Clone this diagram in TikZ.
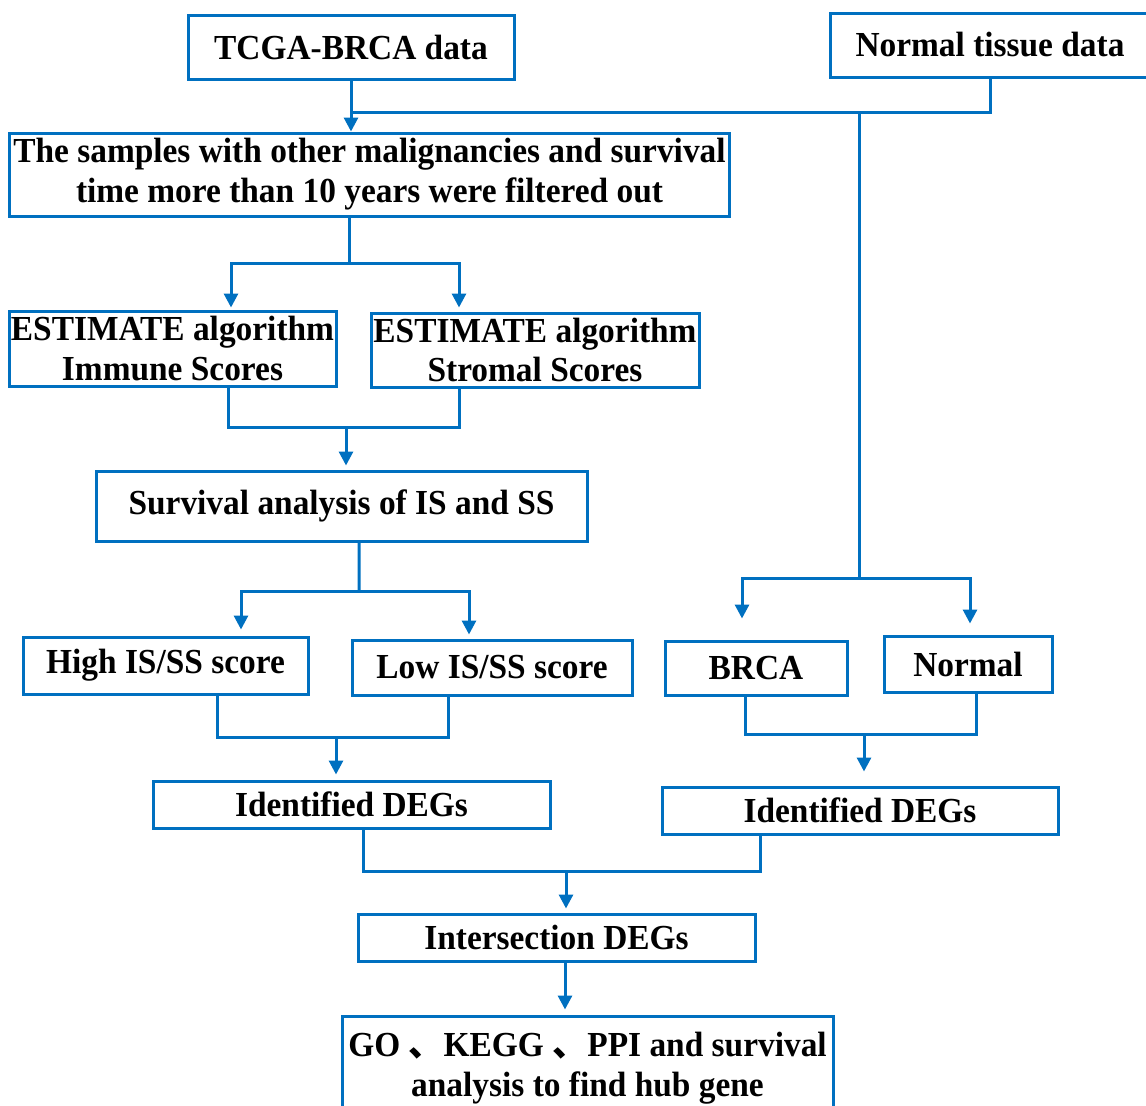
\documentclass[tikz,border=0pt]{standalone}
\usepackage{fontspec}
\setmainfont{Liberation Serif}
\newfontfamily\flowfont{Liberation Serif}[BoldFont={Liberation Serif Bold}, FakeStretch=0.95]
\newfontfamily\cjkfont{Noto Sans CJK SC}
\usepackage{tikz}
\usetikzlibrary{arrows.meta,calc,positioning}
\definecolor{flowblue}{RGB}{0,112,192}
\tikzstyle{box}  =[draw=flowblue, line width=0.06cm, inner sep=0pt,
                   align=center, font=\flowfont\bfseries\fontsize{20}{22.7}\selectfont]
\tikzstyle{link} =[draw=flowblue, line width=0.06cm]
\tikzstyle{arrow}=[link, -{Triangle[width=0.28cm,length=0.28cm]}]

\begin{document}
\begin{tikzpicture}
    \clip (0,0) rectangle (22.92,-22.10);

    % boxes
    \node[box, minimum width=6.52cm, minimum height=1.28cm] (tcga)    at (7.02,-0.94)  {TCGA-BRCA data};
    \node[box, minimum width=6.40cm, minimum height=1.28cm] (normtis) at (19.80,-0.90) {Normal tissue data};
    \node[box, minimum width=14.38cm, minimum height=1.66cm] (samples) at (7.39,-3.49)
        {The samples with other malignancies and survival\\time more than 10 years were filtered out};
    \node[box, minimum width=6.54cm, minimum height=1.50cm] (immune)  at (3.45,-6.97)  {ESTIMATE algorithm\\Immune Scores};
    \node[box, minimum width=6.56cm, minimum height=1.48cm] (stromal) at (10.70,-7.00) {ESTIMATE algorithm\\Stromal Scores};
    \node[box, minimum width=9.82cm, minimum height=1.40cm] (surv)    at (6.83,-10.12) {Survival analysis of IS and SS};
    \node[box, minimum width=5.70cm, minimum height=1.14cm] (high)    at (3.31,-13.31) {High IS/SS score};
    \node[box, minimum width=5.60cm, minimum height=1.10cm] (low)     at (9.84,-13.35) {Low IS/SS score};
    \node[box, minimum width=3.64cm, minimum height=1.08cm] (brca)    at (15.12,-13.36) {BRCA};
    \node[box, minimum width=3.36cm, minimum height=1.12cm] (normal)  at (19.36,-13.28) {Normal};
    \node[box, minimum width=7.94cm, minimum height=0.94cm] (degsl)   at (7.03,-16.09) {Identified DEGs};
    \node[box, minimum width=7.92cm, minimum height=0.94cm] (degsr)   at (17.20,-16.21) {Identified DEGs};
    \node[box, minimum width=7.94cm, minimum height=0.94cm] (inter)   at (11.13,-18.75) {Intersection DEGs};
    \node[box, minimum width=9.82cm, minimum height=2.08cm] (go)      at (11.75,-21.36)
        {GO {\cjkfont 、}KEGG {\cjkfont 、}PPI and survival\\analysis to find hub gene};

    % junctions
    \coordinate (split) at (17.18,-2.24);
    \coordinate (fork)  at (17.18,-11.56);
    \coordinate (j2) at (6.98,-5.26);
    \coordinate (j3) at (6.92,-8.54);
    \coordinate (j4) at (7.18,-11.82);
    \coordinate (j5) at (6.72,-14.74);
    \coordinate (j6) at (17.28,-14.68);
    \coordinate (j7) at (11.32,-17.42);

    % connectors
    \draw[arrow] (tcga.south) -- (tcga.south |- samples.north);
    \draw[link] (normtis.south) |- (tcga.south |- split);
    \draw[link] (split) -- (fork);
    \draw[arrow, shorten >=0.42cm] (fork) -| ([xshift=-0.28cm]brca.north);
    \draw[arrow, shorten >=0.22cm] (fork) -| ([xshift=0.04cm]normal.north);

    \draw[link] ([xshift=-0.41cm]samples.south) -- (j2);
    \draw[arrow, shorten >=0.04cm] (j2) -| ([xshift=1.17cm]immune.north);
    \draw[arrow, shorten >=0.08cm] (j2) -| ([xshift=-1.52cm]stromal.north);

    \draw[link] ([xshift=1.11cm]immune.south) |- (j3) -| ([xshift=-1.52cm]stromal.south);
    \draw[arrow, shorten >=0.08cm] (j3) -- (j3 |- surv.north);

    \draw[link] ([xshift=0.35cm]surv.south) -- (j4);
    \draw[arrow, shorten >=0.12cm] (j4) -| ([xshift=1.51cm]high.north);
    \draw[arrow, shorten >=0.08cm] (j4) -| ([xshift=-0.46cm]low.north);

    \draw[link] ([xshift=1.03cm]high.south) |- (j5) -| ([xshift=-0.88cm]low.south);
    \draw[arrow, shorten >=0.10cm] (j5) -- (j5 |- degsl.north);

    \draw[link] ([xshift=-0.22cm]brca.south) |- (j6) -| ([xshift=0.16cm]normal.south);
    \draw[arrow, shorten >=0.28cm] (j6) -- (j6 |- degsr.north);

    \draw[link] ([xshift=0.23cm]degsl.south) |- (j7) -| ([xshift=-2.00cm]degsr.south);
    \draw[arrow, shorten >=0.08cm] (j7) -- (j7 |- inter.north);

    \draw[arrow, shorten >=0.10cm] ([xshift=0.17cm]inter.south) -- ([xshift=0.17cm]inter.south |- go.north);
\end{tikzpicture}
\end{document}
